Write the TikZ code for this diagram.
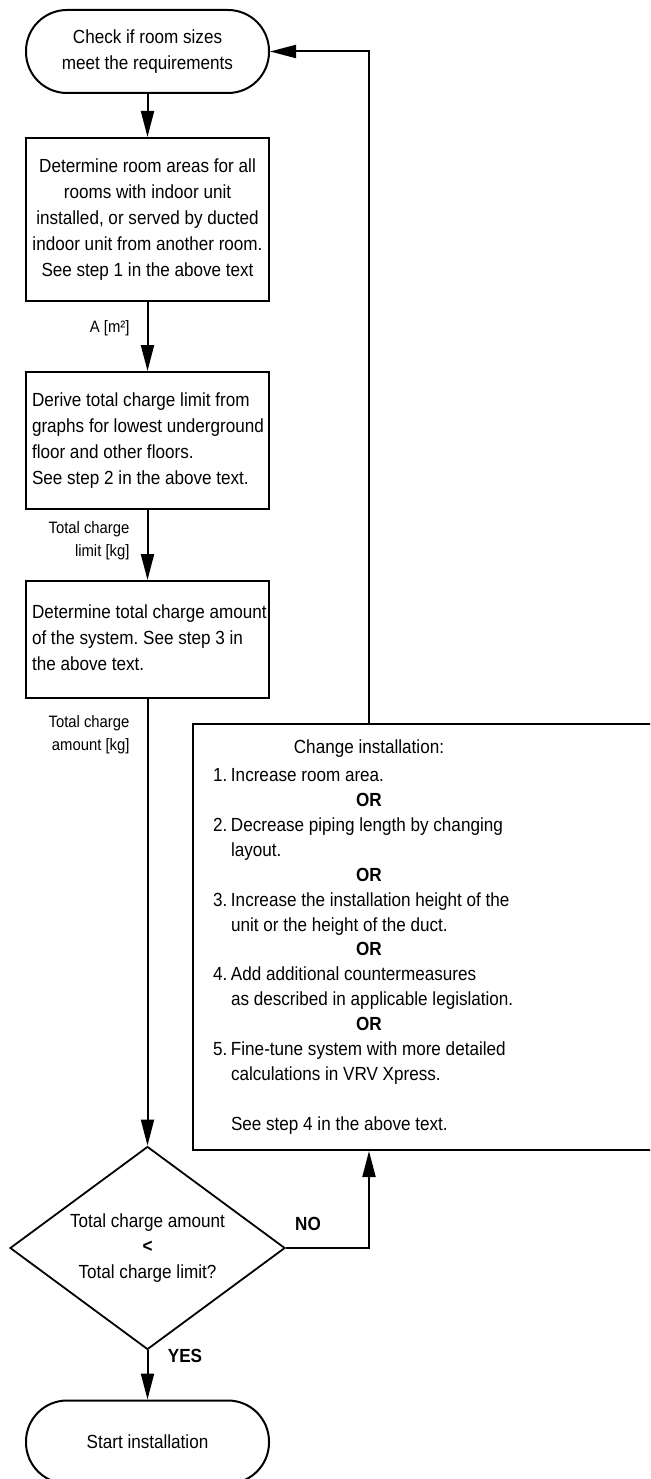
\documentclass[tikz,border=0pt]{standalone}
\usepackage{fontspec}
\setmainfont{Liberation Sans}[FakeStretch=0.9]
\usepackage{tikz}
\usetikzlibrary{arrows.meta, positioning, shapes.geometric}
\frenchspacing

\newcommand{\steptext}[1]{\makebox[231pt][l]{\begin{tabular}{@{}l@{}}#1\end{tabular}}}
\newcommand{\orline}{\makebox[312pt]{\bfseries OR}}
\newcommand{\numitem}[1]{\makebox[18pt][l]{#1}}

\tikzset{
  body/.style={font=\fontsize{19}{25.8}\selectfont},
  stepbox/.style={draw, line width=2pt, minimum width=243pt, inner xsep=6pt, body},
  term/.style={stepbox, rounded corners=41pt, minimum height=83pt, align=center},
  decision/.style={draw, diamond, line width=1.8pt, aspect=1.355, minimum width=275pt,
    minimum height=203pt, inner sep=0pt, align=center, body},
  flow/.style={line width=2pt, -{Triangle[length=26pt, width=13pt]}},
  flowlabel/.style={font=\fontsize{16.5}{23}\selectfont, align=right, anchor=east},
  answer/.style={font=\fontsize{19}{23}\selectfont\bfseries}
}

\begin{document}
\begin{tikzpicture}[x=1pt, y=-1pt]
  \useasboundingbox (0,0) rectangle (650,1479);
  \clip (0,0) rectangle (650,1479);

  % main column
  \node[term] (check) at (147.5,51.5) {Check if room sizes\\meet the requirements};
  \node[stepbox, minimum height=163pt, align=center] (areas) at (147.5,219.5)
    {Determine room areas for all\\rooms with indoor unit\\installed, or served by ducted\\indoor unit from another room.\\See step 1 in the above text};
  \node[stepbox, minimum height=137pt] (limit) at (147.5,440.5)
    {\steptext{Derive total charge limit from\\graphs for lowest underground\\floor and other floors.\\See step 2 in the above text.}};
  \node[stepbox, minimum height=117pt] (amount) at (147.5,639.5)
    {\steptext{Determine total charge amount\\of the system. See step 3 in\\the above text.}};
  \node[decision] (compare) at (147.5,1248)
    {Total charge amount\\{\bfseries <}\\Total charge limit?};
  \node[term] (start) at (147.5,1442) {Start installation};

  % change box
  \node[stepbox, minimum width=467pt, minimum height=426pt] (change) at (426.5,937) {};
  \node[inner sep=0pt, font=\fontsize{19}{24.9}\selectfont] (changetext) at (369,937)
    {\begin{tabular}{@{}l@{}}
     \makebox[312pt]{Change installation:}\\[3pt]
     \numitem{1.}Increase room area.\\
     \orline\\
     \numitem{2.}Decrease piping length by changing\\
     \numitem{}layout.\\
     \orline\\
     \numitem{3.}Increase the installation height of the\\
     \numitem{}unit or the height of the duct.\\
     \orline\\
     \numitem{4.}Add additional countermeasures\\
     \numitem{}as described in applicable legislation.\\
     \orline\\
     \numitem{5.}Fine-tune system with more detailed\\
     \numitem{}calculations in VRV Xpress.\\[24.9pt]
     \numitem{}See step 4 in the above text.
     \end{tabular}};

  % labels
  \node[flowlabel] (arealbl) at (133,328) {A [m²]};
  \node[flowlabel] (limitlbl) at (133,541) {Total charge\\limit [kg]};
  \node[flowlabel] (amountlbl) at (133,735) {Total charge\\amount [kg]};
  \node[answer] (nolbl) at (308,1224) {NO};
  \node[answer] (yeslbl) at (185,1356) {YES};

  % connectors
  \draw[flow] (check) -- (areas);
  \draw[flow] (areas) -- (limit);
  \draw[flow] (limit) -- (amount);
  \draw[flow] (amount) -- (compare);
  \draw[flow] (compare) -- (start);
  \draw[flow] (compare.east) -| (change.south -| changetext.center);
  \draw[flow] (change.north -| changetext.center) |- (check.east);
\end{tikzpicture}
\end{document}
